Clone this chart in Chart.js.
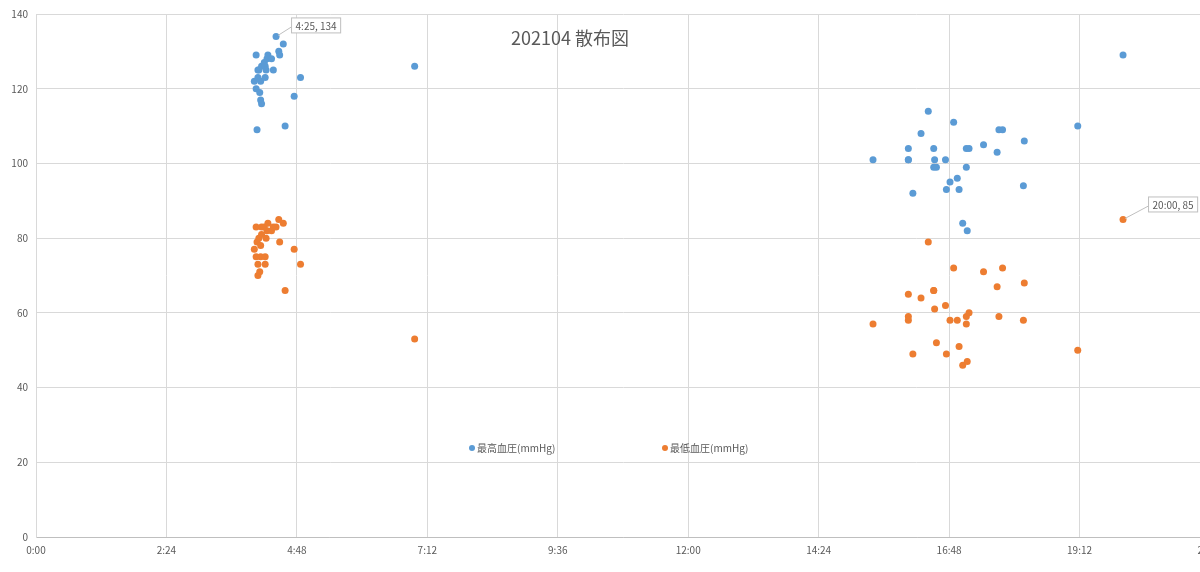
<!DOCTYPE html>
<html lang="ja">
<head>
<meta charset="utf-8">
<title>202104 散布図</title>
<script src="https://cdn.jsdelivr.net/npm/chart.js@4"></script>
<style>
    html, body { margin: 0; padding: 0; background: #fff; overflow: hidden; }
    .chart-box { width: 1240px; height: 572px; position: relative; }
</style>
</head>
<body>
<div class="chart-box"><canvas id="bpChart"></canvas></div>
<script>
// Chart text
const chartTitle = '202104 散布図';
const seriesNames = ['最高血圧(mmHg)', '最低血圧(mmHg)'];

// Measurement times (h:mm) with the matching readings
const readTimes = [
    '4:01', '4:03', '4:03', '4:04', '4:05', '4:05', '4:06', '4:07', '4:08', '4:08',
    '4:09', '4:09', '4:12', '4:13', '4:13', '4:14', '4:15', '4:16', '4:20', '4:22',
    '4:25', '4:28', '4:29', '4:33', '4:35', '4:45', '4:52', '6:58',
    '15:24', '16:03', '16:03', '16:03', '16:08', '16:17', '16:25', '16:31', '16:31', '16:32',
    '16:34', '16:44', '16:45', '16:49', '16:53', '16:57', '16:59', '17:03', '17:07', '17:07',
    '17:08', '17:10', '17:26', '17:41', '17:43', '17:47', '18:10', '18:11', '19:10', '20:00'
];
const systolic = [
    122, 129, 120, 109, 123, 125, 125, 119, 117, 122,
    116, 126, 127, 123, 126, 125, 128, 129, 128, 125,
    134, 130, 129, 132, 110, 118, 123, 126,
    101, 104, 101, 101, 92, 108, 114, 104, 99, 101,
    99, 101, 93, 95, 111, 96, 93, 84, 99, 104,
    82, 104, 105, 103, 109, 109, 94, 106, 110, 129
];
const diastolic = [
    77, 83, 75, 79, 73, 70, 80, 71, 78, 75,
    81, 83, 83, 75, 73, 80, 82, 84, 82, 83,
    83, 85, 79, 84, 66, 77, 73, 53,
    57, 65, 59, 58, 49, 64, 79, 66, 66, 61,
    52, 62, 49, 58, 72, 58, 51, 46, 57, 59,
    47, 60, 71, 67, 59, 72, 58, 68, 50, 85
];

// Axis ticks (minutes from 0:00)
const xTicks = [0, 144, 288, 432, 576, 720, 864, 1008, 1152, 1296];
const yTicks = [0, 20, 40, 60, 80, 100, 120, 140];

// Points that carry a callout label: [series, index]
const calloutPoints = [[0, 20], [1, 57]];

const toMinutes = (s) => {
    const [h, m] = s.split(':').map(Number);
    return h * 60 + m;
};
const toClock = (min) => Math.floor(min / 60) + ':' + String(Math.round(min % 60)).padStart(2, '0');

const colors = ['#5B9BD5', '#ED7D31'];
const textColor = '#595959';
const gridColor = '#D9D9D9';
const baseFont = '"Noto Sans CJK JP", "Noto Sans", sans-serif';

// Title, in-plot legend and callout labels
const decorations = {
    id: 'decorations',
    afterDatasetsDraw(chart) {
        const ctx = chart.ctx;
        ctx.save();

        // title
        ctx.fillStyle = textColor;
        ctx.font = '18px ' + baseFont;
        ctx.textAlign = 'center';
        ctx.textBaseline = 'middle';
        ctx.fillText(chartTitle, 570, 38);

        // legend
        ctx.font = '10px ' + baseFont;
        ctx.textAlign = 'left';
        const legendX = [472, 665];
        seriesNames.forEach((name, i) => {
            ctx.fillStyle = colors[i];
            ctx.beginPath();
            ctx.arc(legendX[i], 448, 3, 0, Math.PI * 2);
            ctx.fill();
            ctx.fillStyle = textColor;
            ctx.fillText(name, legendX[i] + 5, 448);
        });

        // callouts
        const offsets = [[15, -19], [25, -23]];
        calloutPoints.forEach(([ds, idx], k) => {
            const pt = chart.getDatasetMeta(ds).data[idx];
            const raw = chart.data.datasets[ds].data[idx];
            const label = toClock(raw.x) + ', ' + raw.y;
            ctx.font = '10px ' + baseFont;
            const w = ctx.measureText(label).width + 8;
            const h = 15;
            const bx = pt.x + offsets[k][0];
            const by = pt.y + offsets[k][1];
            ctx.strokeStyle = '#BFBFBF';
            ctx.lineWidth = 1;
            ctx.beginPath();
            ctx.moveTo(pt.x + 2, pt.y - 1);
            ctx.lineTo(bx, by + h * 0.65);
            ctx.stroke();
            ctx.fillStyle = '#fff';
            ctx.fillRect(bx + 0.5, by + 0.5, w, h);
            ctx.strokeRect(bx + 0.5, by + 0.5, w, h);
            ctx.fillStyle = textColor;
            ctx.textAlign = 'left';
            ctx.textBaseline = 'middle';
            ctx.fillText(label, bx + 4.5, by + h / 2 + 1);
        });

        ctx.restore();
    }
};

const bpChart = new Chart(
    document.getElementById('bpChart'),
    {
        type: 'scatter',
        data: {
            datasets: [
                {
                    label: seriesNames[0],
                    data: readTimes.map((t, i) => ({ x: toMinutes(t), y: systolic[i] })),
                    backgroundColor: colors[0],
                    borderColor: colors[0],
                    pointRadius: 3.5,
                    borderWidth: 0
                },
                {
                    label: seriesNames[1],
                    data: readTimes.map((t, i) => ({ x: toMinutes(t), y: diastolic[i] })),
                    backgroundColor: colors[1],
                    borderColor: colors[1],
                    pointRadius: 3.5,
                    borderWidth: 0
                }
            ]
        },
        options: {
            responsive: true,
            maintainAspectRatio: false,
            animation: false,
            layout: {
                padding: { top: 13, right: 30, left: 0, bottom: 0 }
            },
            plugins: {
                legend: { display: false },
                title: { display: false },
                tooltip: { enabled: false }
            },
            scales: {
                x: {
                    type: 'linear',
                    min: xTicks[0],
                    max: xTicks[xTicks.length - 1],
                    afterBuildTicks: (scale) => {
                        scale.ticks = xTicks.map(v => ({ value: v }));
                    },
                    afterFit: (scale) => { scale.height = 35; },
                    grid: { color: gridColor, drawTicks: false },
                    border: { color: '#BFBFBF' },
                    ticks: {
                        color: textColor,
                        font: { size: 10, family: baseFont },
                        padding: 7,
                        maxRotation: 0,
                        autoSkip: false,
                        callback: (v) => toClock(v)
                    }
                },
                y: {
                    min: yTicks[0],
                    max: yTicks[yTicks.length - 1],
                    afterBuildTicks: (scale) => {
                        scale.ticks = yTicks.map(v => ({ value: v }));
                    },
                    afterFit: (scale) => { scale.width = 36; },
                    grid: { color: gridColor, drawTicks: false },
                    border: { color: gridColor },
                    ticks: {
                        color: textColor,
                        font: { size: 10, family: baseFont },
                        padding: 8
                    }
                }
            }
        },
        plugins: [decorations]
    }
);
</script>
</body>
</html>
